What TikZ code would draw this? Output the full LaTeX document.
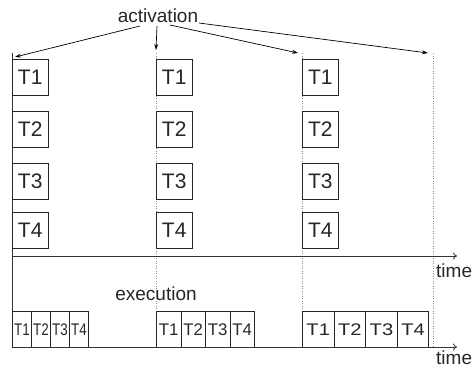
\documentclass[tikz,border=0pt]{standalone}
\usepackage{fontspec}
\setmainfont{Liberation Sans}
\usetikzlibrary{arrows.meta}
\begin{document}
\begin{tikzpicture}[x=1pt,y=-1pt,
  bigbox/.style={draw=black!85,line width=0.9pt,minimum width=36.5pt,minimum height=36pt,inner sep=0pt,
    font=\fontsize{21}{21}\selectfont,text=black!85},
  exbox/.style={draw=black!85,line width=0.9pt,minimum height=36pt,inner sep=0pt,anchor=north west,
    font=\fontsize{16.8}{16.8}\selectfont,text=black!85},
  lbl/.style={font=\fontsize{19}{19}\selectfont,text=black!85,inner sep=0pt},
  arr/.style={line width=0.7pt,-{Stealth[length=6pt,width=4pt]}},
  axis/.style={line width=0.8pt,draw=black!80,-{To[length=4pt,width=7pt]}},
  guide/.style={draw=black!45,dotted,line width=0.5pt}]
\useasboundingbox (0,0) rectangle (474,370);

% activation label and arrows
\node[lbl] (act) at (158,16) {activation};
\coordinate (s1) at (140,26);
\coordinate (s2) at (157,26);
\coordinate (s3) at (170,25);
\coordinate (s4) at (199,23);
\coordinate (p1) at (15,57);
\coordinate (p2) at (156,50);
\coordinate (p3) at (298,53);
\coordinate (p4) at (428,53);
\draw[arr] (s1) -- (p1);
\draw[arr] (s2) -- (p2);
\draw[arr] (s3) -- (p3);
\draw[arr] (s4) -- (p4);

% guide lines
\coordinate (g1t) at (12,53);   \coordinate (g1b) at (12,347);
\coordinate (g2t) at (156,53);  \coordinate (g2b) at (156,347);
\coordinate (g3t) at (302,53);  \coordinate (g3b) at (302,347);
\coordinate (g4t) at (433,53);  \coordinate (g4b) at (433,347);
\draw[guide] (g2t) -- (g2b);
\draw[guide] (g3t) -- (g3b);
\draw[guide] (g4t) -- (g4b);
\draw[line width=0.8pt,black!80] (g1t) -- (g1b);

% activation boxes
\foreach \col/\x in {a/30.25,b/174.25,c/320.25}{
  \node[bigbox] (\col1) at (\x,77) {T1};
  \node[bigbox] (\col2) at (\x,129) {T2};
  \node[bigbox] (\col3) at (\x,181) {T3};
  \node[bigbox] (\col4) at (\x,230) {T4};
}

% top time axis
\coordinate (ta0) at (12,256);
\coordinate (ta1) at (457,256);
\draw[axis] (ta0) -- (ta1);
\node[lbl,anchor=base west] (time1) at (436,277) {time};

% execution
\node[lbl] (exe) at (156,294) {execution};

\foreach \i/\t in {0/T1,1/T2,2/T3,3/T4}{
  \node[exbox,minimum width=19pt] (ea\i) at ({12+19*\i},311) {\scalebox{0.8}[1]{\t}};
  \node[exbox,minimum width=24.5pt] (eb\i) at ({156+24.5*\i},311) {\scalebox{1}[1]{\t}};
  \node[exbox,minimum width=31.6pt] (ec\i) at ({302+31.6*\i},311) {\scalebox{1.2}[1]{\t}};
}

% bottom time axis
\coordinate (tb0) at (12,347);
\coordinate (tb1) at (457,347);
\draw[axis] (tb0) -- (tb1);
\node[lbl,anchor=base west] (time2) at (436,364) {time};
\end{tikzpicture}
\end{document}
